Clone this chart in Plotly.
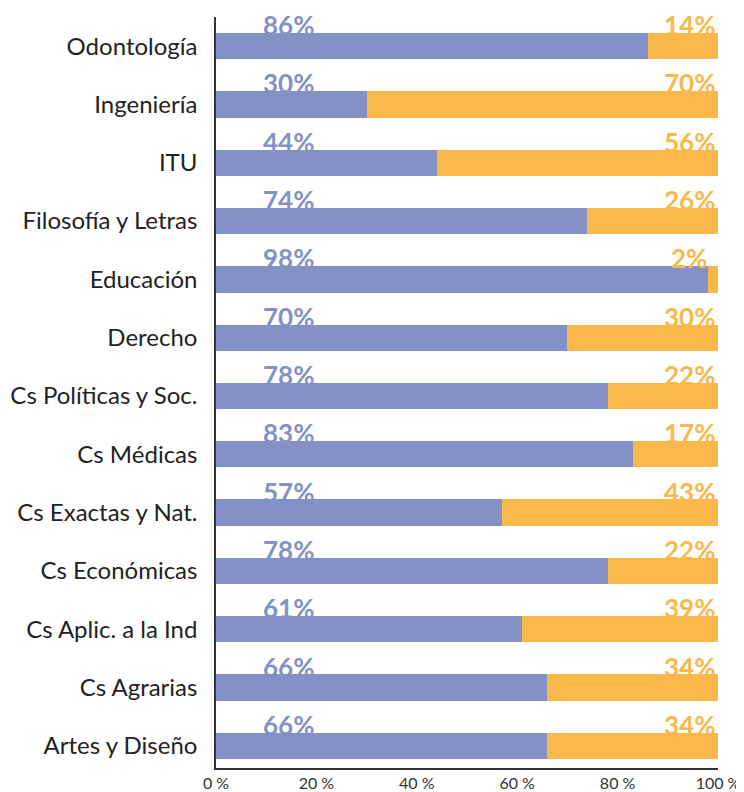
import plotly.graph_objects as go

categories = ["Odontología", "Ingeniería", "ITU", "Filosofía y Letras", "Educación",
              "Derecho", "Cs Políticas y Soc.", "Cs Médicas", "Cs Exactas y Nat.",
              "Cs Económicas", "Cs Aplic. a la Ind", "Cs Agrarias", "Artes y Diseño"]
share_a = [86, 30, 44, 74, 98, 70, 78, 83, 57, 78, 61, 66, 66]
share_b = [14, 70, 56, 26, 2, 30, 22, 17, 43, 22, 39, 34, 34]
x_ticks = [0, 20, 40, 60, 80, 100]
x_tick_labels = ["0 %", "20 %", "40 %", "60 %", "80 %", "100 %"]

BLUE = "#8391C7"
ORANGE = "#FAB84A"
FONT = "Lato"

fig = go.Figure()
fig.add_trace(go.Bar(y=categories, x=share_a, orientation="h", marker_color=BLUE,
                     marker_line_width=0, width=0.45, showlegend=False))
fig.add_trace(go.Bar(y=categories, x=share_b, orientation="h", marker_color=ORANGE,
                     marker_line_width=0, width=0.45, showlegend=False))

for c, a, b in zip(categories, share_a, share_b):
    fig.add_annotation(x=14.5, y=c, text=f"<b>{a}%</b>", showarrow=False, yshift=21,
                       font=dict(family=FONT, size=26, color=BLUE), xanchor="center")
    fig.add_annotation(x=94.3, y=c, text=f"<b>{b}%</b>", showarrow=False, yshift=21,
                       font=dict(family=FONT, size=26, color=ORANGE), xanchor="center")

fig.update_layout(
    barmode="stack",
    width=736, height=784,
    margin=dict(l=208, r=26, t=9, b=24, autoexpand=False),
    plot_bgcolor="white", paper_bgcolor="white",
    font=dict(family=FONT, color="#333333"),
    xaxis=dict(range=[0, 100], tickvals=x_ticks, ticktext=x_tick_labels, showgrid=False,
               zeroline=False, showline=True, linecolor="#333333", linewidth=1.5,
               ticks="", automargin=False, ticklabelstandoff=0,
               tickfont=dict(size=16, color="#333333")),
    yaxis=dict(categoryorder="array", categoryarray=categories[::-1],
               range=[-0.38, 12.5], showgrid=False, zeroline=False, showline=True,
               linecolor="#333333", linewidth=1.5, ticks="", ticklabelstandoff=12,
               automargin=False,
               tickfont=dict(size=24, color="#222222")),
)

fig.write_html("out.html")
